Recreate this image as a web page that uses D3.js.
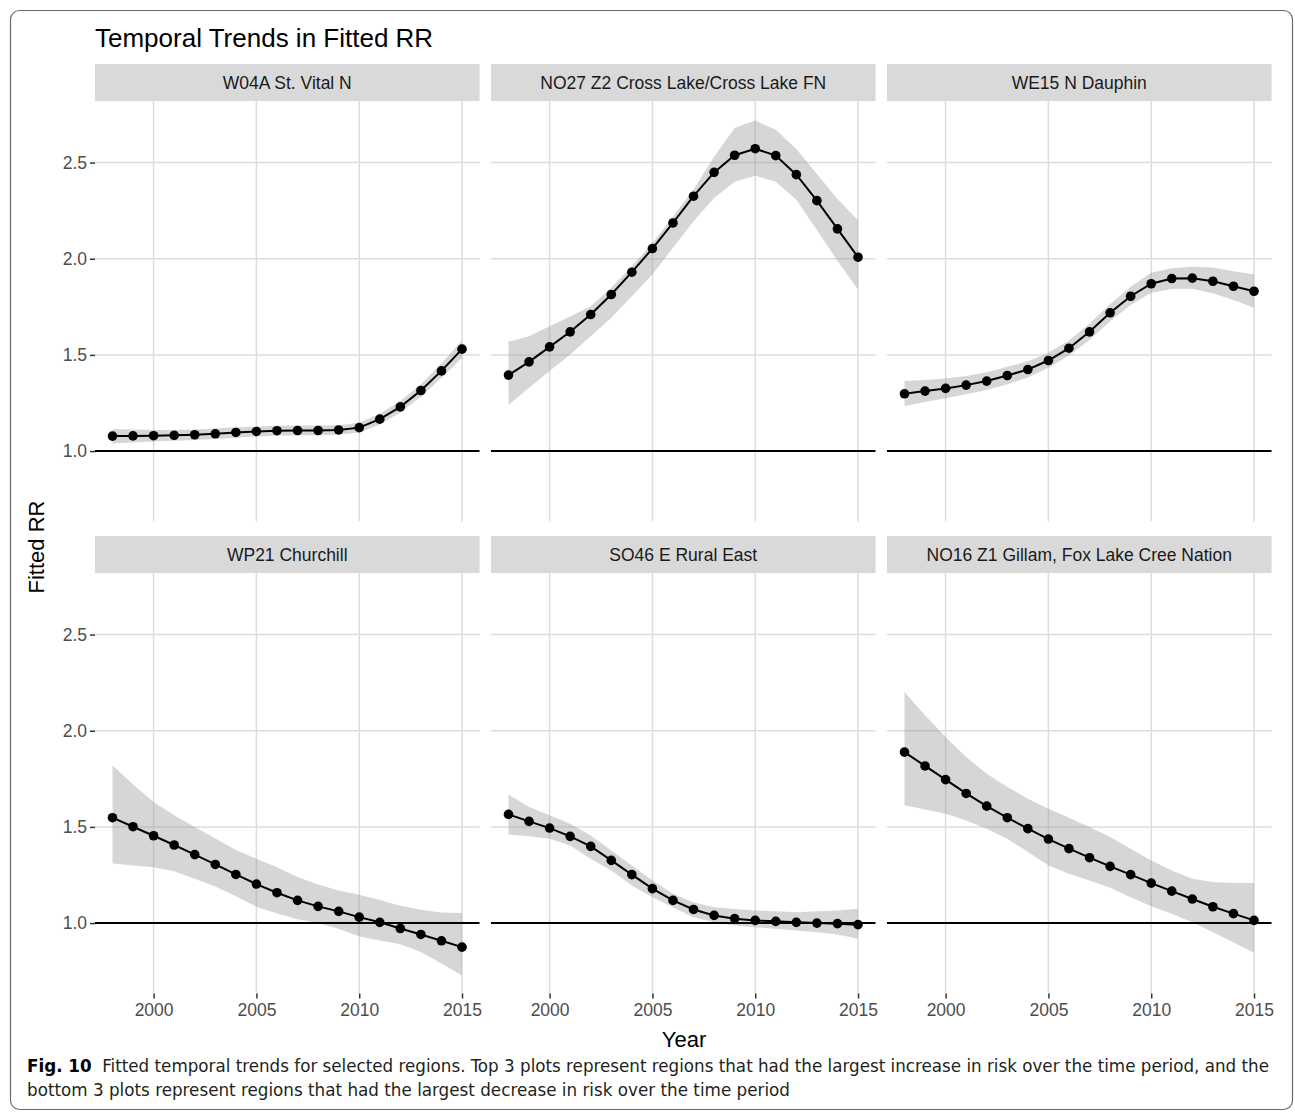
<!DOCTYPE html>
<html>
<head>
<meta charset="utf-8">
<script src="https://cdn.jsdelivr.net/npm/d3@7"></script>
<style>
  body { margin: 0; background: #fff; }
  text { font-family: "Liberation Sans", Arial, Helvetica, sans-serif; }
</style>
</head>
<body>
<svg id="chart" width="1295" height="1113"></svg>
<script>
// values
var years = [1998, 1999, 2000, 2001, 2002, 2003, 2004, 2005, 2006, 2007, 2008, 2009, 2010, 2011, 2012, 2013, 2014, 2015];
var regions = ["W04A St. Vital N", "NO27 Z2 Cross Lake/Cross Lake FN", "WE15 N Dauphin",
               "WP21 Churchill", "SO46 E Rural East", "NO16 Z1 Gillam, Fox Lake Cree Nation"];
var yTicks = [1.0, 1.5, 2.0, 2.5];
var xTicks = [2000, 2005, 2010, 2015];

var fit_w04a = [1.078, 1.079, 1.080, 1.082, 1.085, 1.090, 1.097, 1.102, 1.106, 1.107, 1.107, 1.110, 1.122, 1.166, 1.230, 1.315, 1.417, 1.530];
var lo_w04a  = [1.040, 1.045, 1.050, 1.054, 1.058, 1.063, 1.070, 1.076, 1.080, 1.082, 1.082, 1.085, 1.097, 1.138, 1.200, 1.282, 1.380, 1.485];
var hi_w04a  = [1.115, 1.112, 1.110, 1.110, 1.112, 1.117, 1.124, 1.128, 1.132, 1.133, 1.133, 1.135, 1.147, 1.194, 1.260, 1.348, 1.455, 1.575];

var fit_no27 = [1.395, 1.464, 1.542, 1.620, 1.710, 1.814, 1.930, 2.053, 2.186, 2.325, 2.449, 2.538, 2.572, 2.536, 2.437, 2.302, 2.155, 2.008];
var lo_no27  = [1.239, 1.329, 1.416, 1.502, 1.597, 1.693, 1.805, 1.918, 2.057, 2.195, 2.316, 2.400, 2.432, 2.400, 2.307, 2.150, 1.990, 1.840];
var hi_no27  = [1.568, 1.597, 1.649, 1.700, 1.753, 1.849, 1.961, 2.080, 2.220, 2.360, 2.530, 2.680, 2.718, 2.670, 2.570, 2.440, 2.310, 2.200];

var fit_we15 = [1.298, 1.312, 1.326, 1.343, 1.364, 1.393, 1.424, 1.471, 1.535, 1.620, 1.719, 1.805, 1.870, 1.897, 1.899, 1.883, 1.857, 1.831];
var lo_we15  = [1.234, 1.255, 1.275, 1.295, 1.318, 1.348, 1.382, 1.433, 1.497, 1.578, 1.675, 1.760, 1.823, 1.843, 1.844, 1.820, 1.785, 1.745];
var hi_we15  = [1.364, 1.370, 1.378, 1.390, 1.410, 1.438, 1.467, 1.511, 1.575, 1.662, 1.765, 1.855, 1.927, 1.950, 1.958, 1.955, 1.935, 1.918];

var fit_wp21 = [1.548, 1.501, 1.454, 1.406, 1.356, 1.305, 1.253, 1.203, 1.158, 1.118, 1.087, 1.061, 1.031, 1.004, 0.972, 0.941, 0.908, 0.875];
var lo_wp21  = [1.310, 1.300, 1.290, 1.270, 1.230, 1.190, 1.140, 1.085, 1.050, 1.020, 1.000, 0.970, 0.930, 0.910, 0.890, 0.850, 0.790, 0.728];
var hi_wp21  = [1.820, 1.720, 1.630, 1.560, 1.500, 1.440, 1.380, 1.335, 1.290, 1.240, 1.200, 1.170, 1.148, 1.120, 1.090, 1.070, 1.055, 1.052];

var fit_so46 = [1.565, 1.529, 1.494, 1.451, 1.399, 1.326, 1.252, 1.179, 1.118, 1.071, 1.040, 1.023, 1.014, 1.009, 1.004, 1.000, 0.997, 0.992];
var lo_so46  = [1.461, 1.451, 1.439, 1.404, 1.335, 1.274, 1.196, 1.135, 1.083, 1.031, 1.005, 0.988, 0.979, 0.971, 0.962, 0.953, 0.941, 0.919];
var hi_so46  = [1.669, 1.603, 1.560, 1.517, 1.456, 1.378, 1.300, 1.222, 1.153, 1.109, 1.083, 1.073, 1.066, 1.061, 1.057, 1.061, 1.066, 1.075];

var fit_no16 = [1.889, 1.817, 1.746, 1.674, 1.608, 1.548, 1.491, 1.437, 1.387, 1.340, 1.295, 1.252, 1.208, 1.166, 1.125, 1.085, 1.049, 1.014];
var lo_no16  = [1.612, 1.590, 1.569, 1.534, 1.491, 1.439, 1.369, 1.300, 1.257, 1.222, 1.184, 1.135, 1.087, 1.049, 1.005, 0.953, 0.901, 0.844];
var hi_no16  = [2.201, 2.080, 1.967, 1.863, 1.777, 1.707, 1.647, 1.595, 1.548, 1.499, 1.447, 1.387, 1.326, 1.274, 1.231, 1.213, 1.208, 1.208];

var fits = [fit_w04a, fit_no27, fit_we15, fit_wp21, fit_so46, fit_no16];
var los  = [lo_w04a, lo_no27, lo_we15, lo_wp21, lo_so46, lo_no16];
var his  = [hi_w04a, hi_no27, hi_we15, hi_wp21, hi_so46, hi_no16];

var svg = d3.select("#chart");

// layout
var panelLeft = [95, 491, 887],
    panelW = 384.5,
    stripTop = [64, 536],
    stripH = 37,
    plotH = 420.5;

var x = d3.scaleLinear().domain([1997.15, 2015.85]).range([0, panelW]);
var y = d3.scaleLinear().domain([0.634, 2.82]).range([plotH, 0]);

// outer frame
svg.append("rect")
    .attr("x", 10.5).attr("y", 10.5)
    .attr("width", 1282).attr("height", 1099)
    .attr("rx", 9)
    .attr("fill", "#fff")
    .attr("stroke", "#6b6b6b")
    .attr("stroke-width", 1.2);

svg.append("text")
    .attr("x", 95).attr("y", 47)
    .attr("font-size", 26)
    .attr("fill", "#000")
    .text("Temporal Trends in Fitted RR");

var area = d3.area()
    .x(function(d, i) { return x(years[i]); })
    .y0(function(d) { return y(d[0]); })
    .y1(function(d) { return y(d[1]); });

var line = d3.line()
    .x(function(d, i) { return x(years[i]); })
    .y(function(d) { return y(d); });

regions.forEach(function(name, k) {
    var col = k % 3, row = Math.floor(k / 3);
    var g = svg.append("g")
        .attr("transform", "translate(" + panelLeft[col] + "," + (stripTop[row] + stripH) + ")");

    // strip
    g.append("rect")
        .attr("x", 0).attr("y", -stripH)
        .attr("width", panelW).attr("height", stripH)
        .attr("fill", "#d9d9d9");
    g.append("text")
        .attr("x", panelW / 2).attr("y", -stripH / 2 + 6)
        .attr("text-anchor", "middle")
        .attr("font-size", 17.5)
        .attr("fill", "#1a1a1a")
        .text(name);

    // grid
    g.selectAll(".gy").data(yTicks).enter().append("line")
        .attr("x1", 0).attr("x2", panelW)
        .attr("y1", function(d) { return y(d); }).attr("y2", function(d) { return y(d); })
        .attr("stroke", "#dcdcdc").attr("stroke-width", 1.5);
    g.selectAll(".gx").data(xTicks).enter().append("line")
        .attr("y1", 0).attr("y2", plotH)
        .attr("x1", function(d) { return x(d); }).attr("x2", function(d) { return x(d); })
        .attr("stroke", "#dcdcdc").attr("stroke-width", 1.5);

    // ribbon
    var band = los[k].map(function(v, i) { return [v, his[k][i]]; });
    g.append("path")
        .attr("d", area(band))
        .attr("fill", "#999999")
        .attr("fill-opacity", 0.4);

    // reference line at RR = 1
    g.append("line")
        .attr("x1", 0).attr("x2", panelW)
        .attr("y1", y(1)).attr("y2", y(1))
        .attr("stroke", "#000").attr("stroke-width", 2);

    g.append("path")
        .attr("d", line(fits[k]))
        .attr("fill", "none")
        .attr("stroke", "#000")
        .attr("stroke-width", 2);

    g.selectAll("circle").data(fits[k]).enter().append("circle")
        .attr("cx", function(d, i) { return x(years[i]); })
        .attr("cy", function(d) { return y(d); })
        .attr("r", 4.8)
        .attr("fill", "#000");

    // y axis on first column
    if (col === 0) {
        var ya = g.append("g").call(d3.axisLeft(y).tickValues(yTicks).tickFormat(d3.format(".1f")).tickSize(5).tickPadding(3));
        ya.select(".domain").remove();
        ya.selectAll(".tick line").attr("stroke", "#333").attr("stroke-width", 1.5);
        ya.selectAll(".tick text").attr("font-size", 17.5).attr("fill", "#4d4d4d")
            .attr("font-family", "Liberation Sans, Arial, sans-serif");
    }
    // x axis on bottom row
    if (row === 1) {
        var xa = g.append("g").attr("transform", "translate(0," + plotH + ")")
            .call(d3.axisBottom(x).tickValues(xTicks).tickFormat(d3.format("d")).tickSize(5).tickPadding(5));
        xa.select(".domain").remove();
        xa.selectAll(".tick line").attr("stroke", "#333").attr("stroke-width", 1.5);
        xa.selectAll(".tick text").attr("font-size", 17.5).attr("fill", "#4d4d4d")
            .attr("font-family", "Liberation Sans, Arial, sans-serif");
    }
});

// axis titles
svg.append("text")
    .attr("transform", "translate(44,547) rotate(-90)")
    .attr("text-anchor", "middle")
    .attr("font-size", 22)
    .text("Fitted RR");

svg.append("text")
    .attr("x", 684).attr("y", 1047)
    .attr("text-anchor", "middle")
    .attr("font-size", 22)
    .text("Year");

// caption
var capFont = "'Liberation Sans Narrow', 'DejaVu Sans Condensed', sans-serif";
var cap1 = svg.append("text")
    .attr("x", 27).attr("y", 1072)
    .attr("font-size", 18)
    .attr("fill", "#231f20")
    .style("font-family", capFont)
    .attr("textLength", 1242)
    .attr("lengthAdjust", "spacingAndGlyphs");
cap1.append("tspan").attr("font-weight", "bold").attr("fill", "#000").text("Fig. 10");
cap1.append("tspan").text("\u00a0 Fitted temporal trends for selected regions. Top 3 plots represent regions that had the largest increase in risk over the time period, and the");

svg.append("text")
    .attr("x", 27).attr("y", 1095.5)
    .attr("font-size", 18)
    .attr("fill", "#231f20")
    .style("font-family", capFont)
    .attr("textLength", 763)
    .attr("lengthAdjust", "spacingAndGlyphs")
    .text("bottom 3 plots represent regions that had the largest decrease in risk over the time period");
</script>
</body>
</html>
